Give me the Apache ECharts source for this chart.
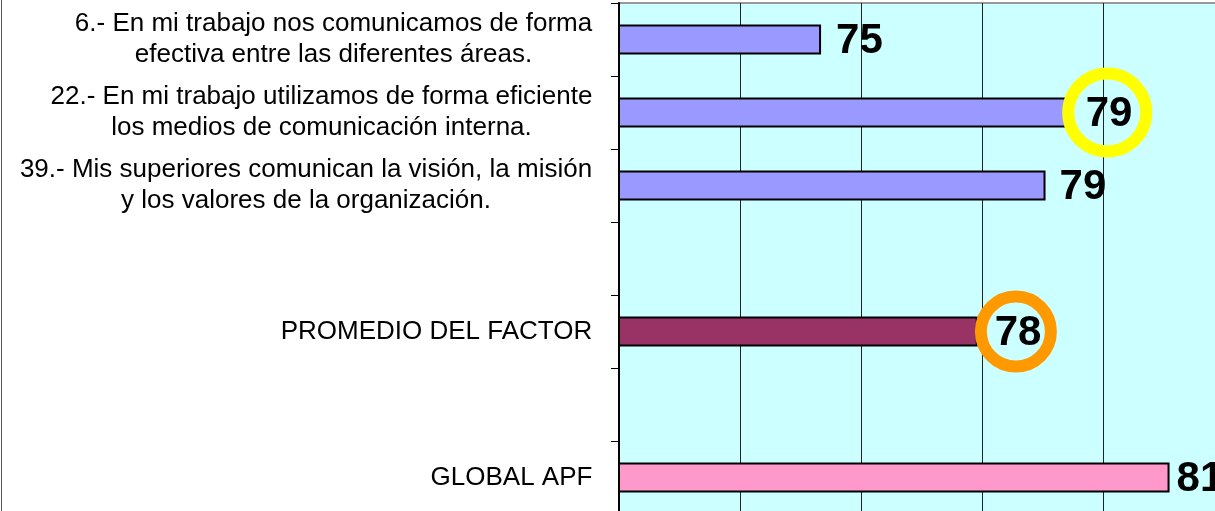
<!DOCTYPE html>
<html>
<head>
<meta charset="utf-8">
<script src="https://cdn.jsdelivr.net/npm/echarts@6/dist/echarts.min.js"></script>
<style>
  html, body { margin: 0; padding: 0; background: #fff; }
  #chart { width: 1215px; height: 511px; }
</style>
</head>
<body>
<div id="chart"></div>
<script>
const categories = [
  '6.- En mi trabajo nos comunicamos de forma\nefectiva entre las diferentes áreas.',
  '22.- En mi trabajo utilizamos de forma eficiente\nlos medios de comunicación interna.',
  '39.- Mis superiores comunican la visión, la misión\ny los valores de la organización.',
  ' ',
  'PROMEDIO DEL FACTOR',
  '  ',
  'GLOBAL APF'
];
const values = [75.34, 79.4, 79.05, null, 77.93, null, 81.1];
const barColors = ['#9999FF', '#9999FF', '#9999FF', null, '#993366', null, '#FF99CC'];
// circled results: [x value, category index]
const yellowMark = [[80.07, 1]];
const orangeMark = [[78.56, 4]];

const FONT = 'Arial, "Liberation Sans", sans-serif';
const LABEL_SIZE = 26;

// ancho de cada etiqueta para centrar las dos lineas
const ctx = document.createElement('canvas').getContext('2d');
ctx.font = LABEL_SIZE + 'px ' + FONT;
const rich = {};
categories.forEach((c, i) => {
  const w = Math.max(...c.split('\n').map((l) => ctx.measureText(l).width));
  rich['r' + i] = {
    width: Math.ceil(w) + 1,
    align: 'center',
    fontSize: LABEL_SIZE,
    lineHeight: 31,
    fontFamily: FONT,
    color: '#000'
  };
});

const labelGap = [15, 19, 14, 0, 17, 0, 7];

const chart = echarts.init(document.getElementById('chart'));
chart.setOption({
  animation: false,
  grid: {
    left: 619,
    top: 3,
    width: 605,
    height: 511,
    show: true,
    outerBoundsMode: 'none',
    containLabel: false,
    backgroundColor: '#CCFFFF',
    borderColor: '#999',
    borderWidth: 2
  },
  xAxis: {
    type: 'value',
    min: 72,
    max: 82,
    interval: 2,
    axisLabel: { show: false },
    axisLine: { show: false },
    axisTick: { show: false },
    splitLine: { show: true, lineStyle: { color: '#222', width: 1 } }
  },
  yAxis: {
    type: 'category',
    inverse: true,
    data: categories,
    axisLine: { show: true, lineStyle: { color: '#000', width: 2 } },
    axisTick: { show: true, length: 8, lineStyle: { color: '#000', width: 1 } },
    axisLabel: {
      margin: 26,
      rich: rich,
      formatter: (val, idx) => {
        if (!val.trim()) return '';
        return val.split('\n').map((l) => '{r' + idx + '|' + l + '}').join('\n');
      }
    }
  },
  graphic: [
    {
      type: 'line',
      shape: { x1: 1.5, y1: 0, x2: 1.5, y2: 511 },
      style: { stroke: '#555', lineWidth: 1 }
    }
  ],
  series: [
    {
      type: 'bar',
      barWidth: 30,
      z: 2,
      data: values.map((v, i) =>
        v == null
          ? '-'
          : {
              value: v,
              itemStyle: { color: barColors[i] },
              label: { distance: labelGap[i] }
            }
      ),
      itemStyle: { borderColor: '#000', borderWidth: 2 },
      label: {
        show: true,
        position: 'right',
        offset: [0, 2],
        fontSize: 42,
        fontWeight: 'bold',
        fontFamily: FONT,
        color: '#000',
        formatter: (p) => Math.round(p.value)
      }
    },
    {
      type: 'scatter',
      silent: true,
      z: 5,
      symbol: 'circle',
      symbolSize: 78,
      itemStyle: { color: 'rgba(0,0,0,0)', borderColor: '#FFFF00', borderWidth: 12, opacity: 1 },
      data: yellowMark
    },
    {
      type: 'scatter',
      silent: true,
      z: 5,
      symbol: 'circle',
      symbolSize: 70,
      itemStyle: { color: 'rgba(0,0,0,0)', borderColor: '#FF9900', borderWidth: 12, opacity: 1 },
      data: orangeMark
    }
  ]
});
</script>
</body>
</html>
